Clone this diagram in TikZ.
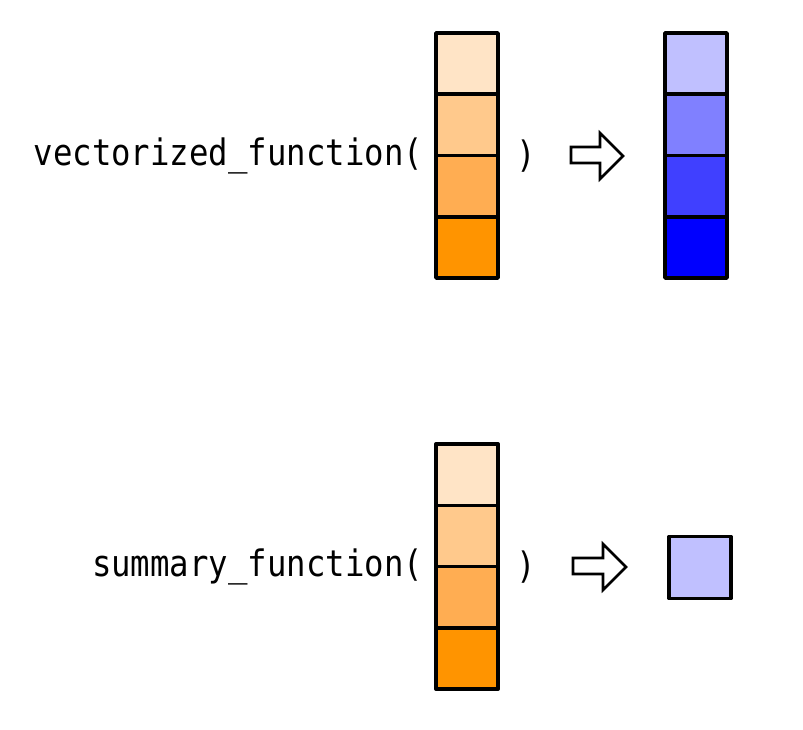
\documentclass[tikz,border=0pt]{standalone}
\usepackage{fontspec}
\newfontfamily\codefont{DejaVu Sans Mono}
\definecolor{o1}{HTML}{FFE4C6}
\definecolor{o2}{HTML}{FFC98C}
\definecolor{o3}{HTML}{FFAD52}
\definecolor{o4}{HTML}{FF9400}
\definecolor{b1}{HTML}{C0C0FF}
\definecolor{b2}{HTML}{8080FF}
\definecolor{b3}{HTML}{4040FF}
\definecolor{b4}{HTML}{0000FF}
\tikzset{
  cell/.style={draw=black, line width=3.6pt, minimum width=62pt, minimum height=61.25pt, inner sep=0pt, outer sep=0pt, line join=round},
  code/.style={font=\codefont\fontsize{31.7}{36}\selectfont, inner sep=0pt, outer sep=0pt},
  bigarrow/.style={draw=black, fill=white, line width=2.6pt, line join=miter}
}
\begin{document}
\begin{tikzpicture}[x=1pt,y=-1pt]
\useasboundingbox (0,0) rectangle (803,729);
% top row
\node[code, anchor=east] (vf) at (423,156) {\scalebox{1.02}[1.15]{vectorized\_function(}};
\node[code] (vfc) at (526,156) {\scalebox{1.02}[1.15]{)}};
\node[cell, fill=o1] (ta1) at (467,63.6) {};
\node[cell, fill=o2] (ta2) at (467,124.9) {};
\node[cell, fill=o3] (ta3) at (467,186.1) {};
\node[cell, fill=o4] (ta4) at (467,247.4) {};
\draw[bigarrow] (571,147) -- (600,147) -- (600,133) -- (623,156) -- (600,179) -- (600,163) -- (571,163) -- cycle;
\node[cell, fill=b1] (tb1) at (696,63.6) {};
\node[cell, fill=b2] (tb2) at (696,124.9) {};
\node[cell, fill=b3] (tb3) at (696,186.1) {};
\node[cell, fill=b4] (tb4) at (696,247.4) {};
% bottom row
\node[code, anchor=east] (sf) at (423,567) {\scalebox{1.02}[1.15]{summary\_function(}};
\node[code] (sfc) at (526,567) {\scalebox{1.02}[1.15]{)}};
\node[cell, fill=o1] (ba1) at (467,474.75) {};
\node[cell, fill=o2] (ba2) at (467,536) {};
\node[cell, fill=o3] (ba3) at (467,597.25) {};
\node[cell, fill=o4] (ba4) at (467,658.5) {};
\draw[bigarrow] (573,558) -- (603,558) -- (603,544) -- (626,567) -- (603,590) -- (603,574) -- (573,574) -- cycle;
\node[cell, fill=b1, minimum height=62pt] (bb) at (700,567.5) {};
\end{tikzpicture}
\end{document}
